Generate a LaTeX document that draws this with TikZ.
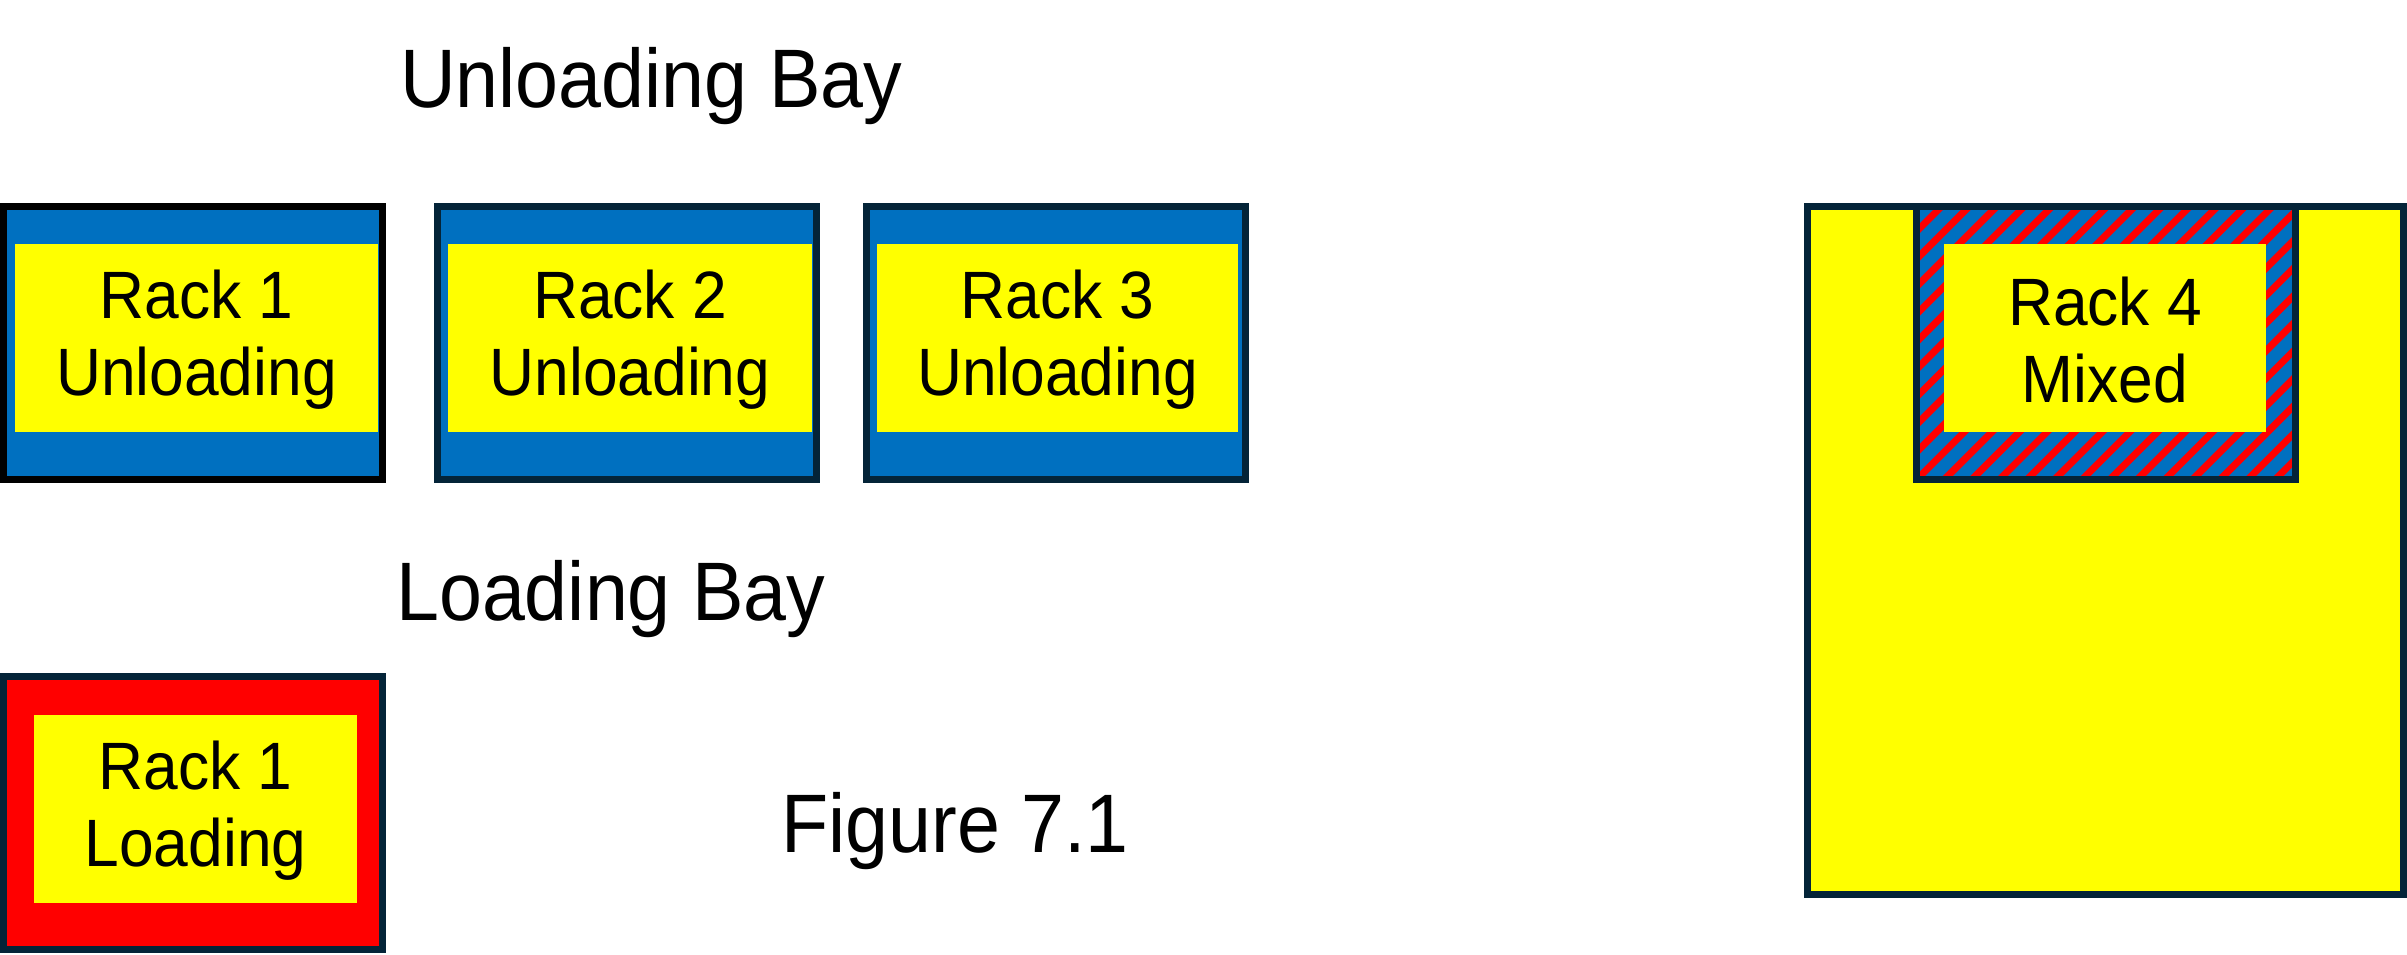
\documentclass[tikz,border=0pt]{standalone}
\usepackage{fontspec}
\setmainfont{Liberation Sans}[FakeStretch=0.93]
\definecolor{navy}{RGB}{4,36,56}
\definecolor{rblue}{RGB}{0,112,192}
\definecolor{ryellow}{RGB}{255,255,0}
\definecolor{rred}{RGB}{255,0,0}
\tikzset{
  frame/.style={line width=7pt, draw=navy},
  heading/.style={anchor=base west, inner sep=0pt, font=\fontsize{83}{90}\selectfont},
  racklabel/.style={align=center, inner sep=0pt, font=\fontsize{67}{77}\selectfont},
  hatchline/.style={draw=rred, line width=7pt}
}
\begin{document}
\begin{tikzpicture}[x=1pt,y=-1pt]
\useasboundingbox (0,0) rectangle (2407,954);

% headings
\node[heading] (ub) at (400,107) {Unloading Bay};
\node[heading] (lb) at (396,620) {Loading Bay};
\node[heading] (fig) at (781,852) {Figure 7.1};

% Rack 1 unloading (black frame)
\filldraw[fill=rblue, line width=7pt, draw=black] (3.5,206.8) rectangle (382.2,479.2);
\fill[ryellow] (15,243.5) rectangle (378,432);
\node[racklabel] (r1u) at (196.5,340) {Rack 1\\Unloading};

% Rack 2 unloading
\filldraw[fill=rblue, frame] (437.5,206.8) rectangle (816.2,479.2);
\fill[ryellow] (448,243.5) rectangle (812,432);
\node[racklabel] (r2u) at (630,340) {Rack 2\\Unloading};

% Rack 3 unloading
\filldraw[fill=rblue, frame] (866.8,206.8) rectangle (1245.5,479.2);
\fill[ryellow] (877,243.5) rectangle (1238,432);
\node[racklabel] (r3u) at (1057.5,340) {Rack 3\\Unloading};

% Rack 1 loading
\filldraw[fill=rred, frame] (3.5,676.8) rectangle (382.5,949.2);
\fill[ryellow] (34,715) rectangle (357,903);
\node[racklabel] (r1l) at (195.5,811) {Rack 1\\Loading};

% big yellow area
\fill[ryellow] (1807.5,206.8) rectangle (2403.5,894.5);

% Rack 4 mixed (hatched)
\fill[rblue] (1916.5,206.8) rectangle (2295.5,479.2);
\begin{scope}
  \clip (1916.5,206.8) rectangle (2295.5,479.2);
  \foreach \k in {-2,...,25} {
    \draw[hatchline] ({2148+27.58*\k-520},520) -- ({2148+27.58*\k-170},170);
  }
\end{scope}
\fill[ryellow] (1944,243.7) rectangle (2266,432);
\draw[frame] (1916.5,206.8) rectangle (2295.5,479.2);
\draw[frame] (1807.5,206.8) rectangle (2403.5,894.5);
\node[racklabel] (r4m) at (2105,340) {Rack 4\\Mixed};
\end{tikzpicture}
\end{document}
